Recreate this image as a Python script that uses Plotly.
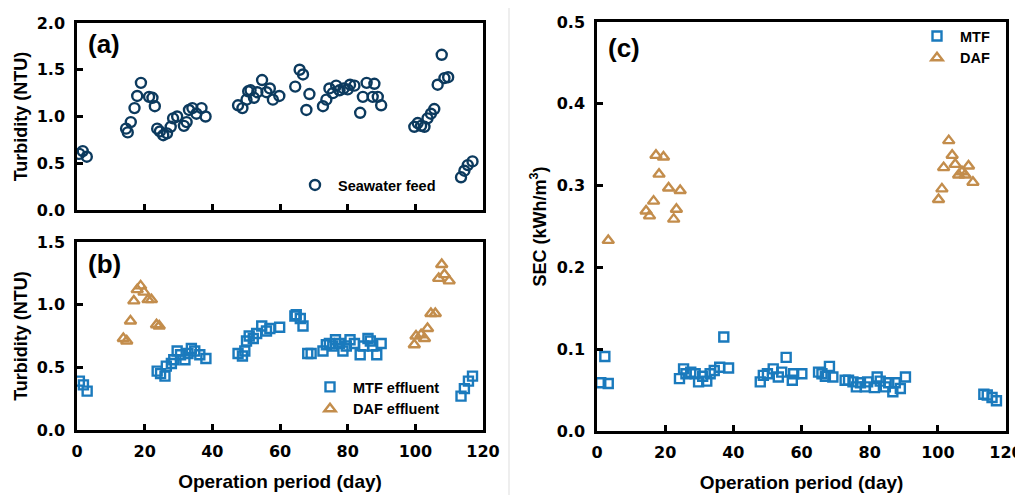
import plotly.graph_objects as go

# ---------------- data ----------------
feed_day = [0.7, 1.7, 2.9, 14.5, 15.0, 15.9, 17.0, 17.8, 18.9, 21.3, 22.3, 23.0, 23.7, 24.5,
            25.5, 26.6, 27.7, 28.4, 29.6, 31.6, 32.4, 33.1, 34.1, 35.3, 36.8, 38.0,
            47.6, 48.9, 50.1, 50.6, 51.3, 52.3, 53.3, 54.7, 56.0, 57.0, 57.9, 59.8,
            64.5, 65.8, 66.8, 67.8, 68.7, 72.7, 73.7, 74.6, 75.6, 76.6, 77.6, 78.8,
            80.0, 80.7, 82.0, 83.7, 84.5, 85.6, 87.4, 87.9, 88.9, 89.9,
            99.7, 100.7, 101.7, 102.7, 103.6, 104.6, 105.6, 106.6, 107.8, 108.6, 109.7,
            113.5, 114.5, 115.5, 116.9]
feed_ntu = [0.60, 0.63, 0.57, 0.87, 0.83, 0.94, 1.09, 1.22, 1.36, 1.21, 1.20, 1.11, 0.87, 0.84,
            0.80, 0.82, 0.89, 0.98, 1.00, 0.90, 0.94, 1.07, 1.09, 1.03, 1.09, 1.00,
            1.12, 1.09, 1.18, 1.27, 1.28, 1.20, 1.26, 1.39, 1.26, 1.30, 1.18, 1.22,
            1.32, 1.50, 1.45, 1.07, 1.24, 1.11, 1.18, 1.30, 1.25, 1.33, 1.28, 1.30,
            1.29, 1.34, 1.33, 1.04, 1.21, 1.36, 1.21, 1.35, 1.21, 1.12,
            0.89, 0.93, 0.90, 0.89, 0.98, 1.03, 1.08, 1.34, 1.66, 1.41, 1.42,
            0.35, 0.42, 0.48, 0.52]

mtf_eff_day = [0.7, 1.9, 3.0, 23.7, 24.7, 26.0, 26.4, 27.9, 28.6, 29.6, 30.6, 31.9, 32.8, 33.8,
               34.8, 36.3, 38.1, 47.6, 48.9, 49.6, 50.1, 50.9, 52.1, 53.1, 54.6, 56.0, 57.0,
               59.9, 64.4, 64.8, 66.0, 66.8, 68.2, 69.2, 72.7, 73.7, 74.6, 75.6, 76.4, 77.6,
               78.6, 79.6, 80.7, 82.0, 83.7, 84.7, 86.0, 86.7, 87.4, 88.6, 89.9,
               113.5, 114.5, 115.7, 116.9]
mtf_eff_ntu = [0.39, 0.36, 0.31, 0.47, 0.45, 0.43, 0.51, 0.53, 0.56, 0.63, 0.60, 0.56, 0.61, 0.65,
               0.63, 0.60, 0.57, 0.61, 0.59, 0.63, 0.71, 0.75, 0.73, 0.77, 0.83, 0.79, 0.81,
               0.82, 0.91, 0.92, 0.89, 0.83, 0.61, 0.61, 0.63, 0.68, 0.69, 0.67, 0.72, 0.69,
               0.63, 0.67, 0.72, 0.69, 0.60, 0.67, 0.73, 0.71, 0.67, 0.60, 0.69,
               0.27, 0.33, 0.39, 0.43]

daf_eff_day = [13.7, 14.7, 15.8, 16.8, 17.8, 18.8, 19.8, 21.0, 22.0, 23.5, 24.3,
               99.7, 100.2, 101.7, 102.7, 103.6, 104.6, 105.9, 106.9, 107.8, 108.6, 110.0]
daf_eff_ntu = [0.73, 0.71, 0.87, 1.03, 1.12, 1.15, 1.10, 1.04, 1.04, 0.84, 0.83,
               0.68, 0.75, 0.76, 0.73, 0.81, 0.93, 0.93, 1.21, 1.32, 1.24, 1.19]

mtf_sec_day = [1.1, 2.3, 3.3, 24.2, 25.4, 26.1, 27.5, 28.8, 29.8, 31.0, 32.2, 33.2, 34.4, 36.0,
               37.2, 38.6, 47.9, 48.8, 50.0, 51.7, 53.2, 54.2, 55.5, 57.3, 57.7, 60.1,
               65.0, 66.0, 67.0, 68.2, 69.2, 72.8, 73.8, 75.1, 76.1, 77.3, 78.7, 79.4,
               81.4, 82.2, 83.1, 84.6, 85.6, 86.8, 87.5, 89.0, 90.5,
               113.5, 114.5, 115.9, 117.2]
mtf_sec = [0.059, 0.091, 0.058, 0.064, 0.076, 0.070, 0.072, 0.070, 0.060, 0.067, 0.061, 0.070,
           0.074, 0.078, 0.115, 0.077, 0.060, 0.068, 0.070, 0.076, 0.066, 0.072, 0.090,
           0.062, 0.070, 0.070, 0.072, 0.070, 0.067, 0.079, 0.066, 0.062, 0.062, 0.060,
           0.054, 0.059, 0.054, 0.060, 0.053, 0.066, 0.061, 0.054, 0.059, 0.048, 0.059,
           0.052, 0.066, 0.045, 0.044, 0.041, 0.037]

daf_sec_day = [3.3, 14.4, 15.4, 16.6, 17.3, 18.2, 19.5, 21.0, 22.5, 23.3, 24.4,
               100.2, 101.2, 101.7, 103.2, 104.2, 105.1, 106.1, 107.1, 108.0, 109.0, 110.3]
daf_sec = [0.233, 0.269, 0.263, 0.281, 0.337, 0.314, 0.335, 0.297, 0.259, 0.271, 0.294,
           0.283, 0.296, 0.322, 0.355, 0.337, 0.326, 0.313, 0.317, 0.313, 0.324, 0.304]

x_ticks = [0, 20, 40, 60, 80, 100, 120]

# ---------------- styling ----------------
NAVY = "#0c3a5e"
BLUE = "#1a7abd"
TAN = "#c38d4c"
FONT = "Liberation Sans, Arial, sans-serif"
TICKFONT = "DejaVu Sans, Liberation Sans, sans-serif"

fig = go.Figure()

fig.add_trace(go.Scatter(x=feed_day, y=feed_ntu, mode="markers", name="Seawater feed",
                         xaxis="x", yaxis="y", legend="legend",
                         marker=dict(symbol="circle-open", size=10, color=NAVY,
                                     line=dict(width=2.4, color=NAVY))))
fig.add_trace(go.Scatter(x=mtf_eff_day, y=mtf_eff_ntu, mode="markers", name="MTF effluent",
                         xaxis="x2", yaxis="y2", legend="legend2",
                         marker=dict(symbol="square-open", size=9, color=BLUE,
                                     line=dict(width=2.4, color=BLUE))))
fig.add_trace(go.Scatter(x=daf_eff_day, y=daf_eff_ntu, mode="markers", name="DAF effluent",
                         xaxis="x2", yaxis="y2", legend="legend2",
                         marker=dict(symbol="triangle-up-open", size=10, color=TAN,
                                     line=dict(width=2.4, color=TAN))))
fig.add_trace(go.Scatter(x=mtf_sec_day, y=mtf_sec, mode="markers", name="MTF",
                         xaxis="x3", yaxis="y3", legend="legend3",
                         marker=dict(symbol="square-open", size=9, color=BLUE,
                                     line=dict(width=2.4, color=BLUE))))
fig.add_trace(go.Scatter(x=daf_sec_day, y=daf_sec, mode="markers", name="DAF",
                         xaxis="x3", yaxis="y3", legend="legend3",
                         marker=dict(symbol="triangle-up-open", size=10, color=TAN,
                                     line=dict(width=2.4, color=TAN))))

# the page body adds an 8px offset; size the figure so that it fills the 1023x495 window
OFF = 8
W, H = 1023 - OFF, 495 - OFF
def dx(px): return (px - OFF) / W
def dy(py): return 1 - (py - OFF) / H

axis_common = dict(showline=True, linecolor="black", linewidth=2.5, mirror=True,
                   ticks="inside", ticklen=6, tickwidth=2.5, tickcolor="black",
                   showgrid=False, zeroline=False, automargin=False,
                   tickfont=dict(family=TICKFONT, size=16, color="black", weight="bold"))

xtitle_font = dict(family=FONT, size=19, color="black", weight="bold")
ytitle_font = dict(family=FONT, size=18, color="black", weight="bold")
legend_font = dict(family=FONT, size=14.5, color="black", weight="bold")

fig.update_layout(
    width=W, height=H, margin=dict(l=0, r=0, t=0, b=0, autoexpand=False),
    plot_bgcolor="white", paper_bgcolor="white",
    xaxis=dict(domain=[dx(77), dx(483)], anchor="y", range=[0, 120], tickvals=x_ticks,
               showticklabels=False, **axis_common),
    yaxis=dict(domain=[dy(210), dy(23)], anchor="x", range=[0, 2.0], dtick=0.5,
               tickformat=".1f", ticklabelstandoff=6,
               title=dict(text="Turbidity (NTU)", font=ytitle_font, standoff=5),
               **axis_common),
    xaxis2=dict(domain=[dx(77), dx(483)], anchor="y2", range=[0, 120], tickvals=x_ticks,
                ticklabelstandoff=5,
                title=dict(text="Operation period (day)", font=xtitle_font, standoff=15),
                **axis_common),
    yaxis2=dict(domain=[dy(430), dy(242)], anchor="x2", range=[0, 1.5], dtick=0.5,
                tickformat=".1f", ticklabelstandoff=6,
                title=dict(text="Turbidity (NTU)", font=ytitle_font, standoff=5),
                **axis_common),
    xaxis3=dict(domain=[dx(597), dx(1006)], anchor="y3", range=[0, 120], tickvals=x_ticks,
                ticklabelstandoff=5,
                title=dict(text="Operation period (day)", font=xtitle_font, standoff=15),
                **axis_common),
    yaxis3=dict(domain=[dy(431), dy(22)], anchor="x3", range=[0, 0.5], dtick=0.1,
                tickformat=".1f", ticklabelstandoff=6,
                title=dict(text="SEC (kWh/m<sup>3</sup>)", font=ytitle_font, standoff=6),
                **axis_common),
    legend=dict(x=dx(292), y=dy(185), xanchor="left", yanchor="middle", itemwidth=36,
                bgcolor="rgba(0,0,0,0)", font=legend_font),
    legend2=dict(x=dx(307), y=dy(398), xanchor="left", yanchor="middle", itemwidth=36,
                 bgcolor="rgba(0,0,0,0)", tracegroupgap=0, font=legend_font),
    legend3=dict(x=dx(914), y=dy(47), xanchor="left", yanchor="middle", itemwidth=36,
                 bgcolor="rgba(0,0,0,0)", font=legend_font),
    showlegend=True,
)

panel_font = dict(family=FONT, size=26, color="black", weight="bold")
for txt, x, y in [("(a)", 86, 44), ("(b)", 86, 264), ("(c)", 606, 48)]:
    fig.add_annotation(text=txt, x=dx(x), y=dy(y), xref="paper", yref="paper",
                       xanchor="left", yanchor="middle", showarrow=False, font=panel_font)

# faint separator between the two sub-figures
fig.add_shape(type="line", xref="paper", yref="paper", x0=dx(509), x1=dx(509),
              y0=0, y1=1, line=dict(color="#eeeeee", width=2))

fig.write_html("out.html")
